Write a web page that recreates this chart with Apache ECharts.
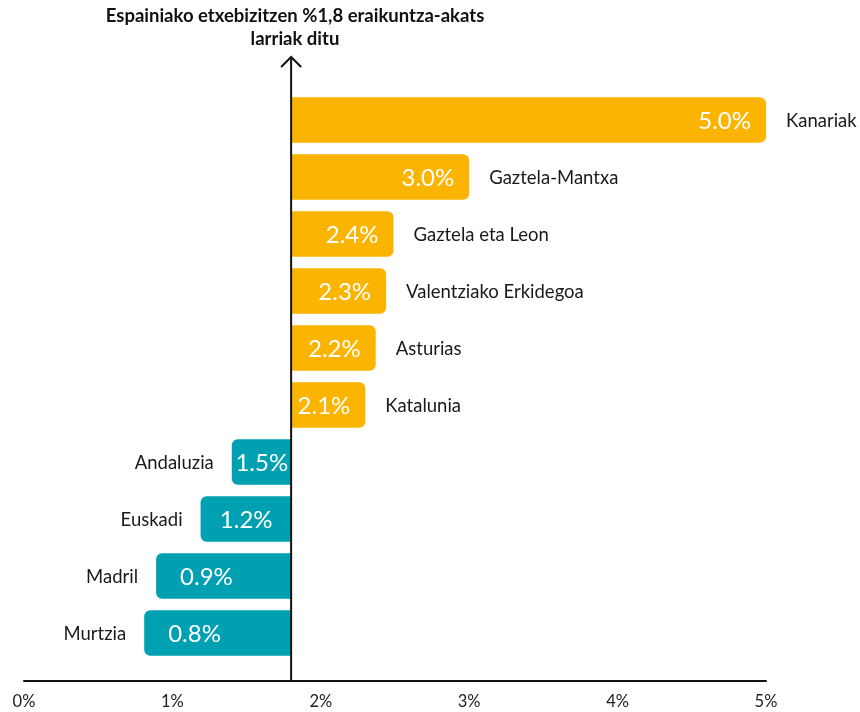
<!DOCTYPE html>
<html>
<head>
<meta charset="utf-8">
<script src="https://cdn.jsdelivr.net/npm/echarts@6/dist/echarts.min.js"></script>
<style>
html,body{margin:0;padding:0;background:#fff;}
#c{width:860px;height:712px;}
</style>
</head>
<body>
<div id="c"></div>
<script>
// Data
const categories = ['Kanariak','Gaztela-Mantxa','Gaztela eta Leon','Valentziako Erkidegoa','Asturias','Katalunia','Andaluzia','Euskadi','Madril','Murtzia'];
const valueLabels = ['5.0%','3.0%','2.4%','2.3%','2.2%','2.1%','1.5%','1.2%','0.9%','0.8%'];
// bar ends as drawn in the picture
const barEnds = [5.0, 3.0, 2.49, 2.44, 2.37, 2.30, 1.40, 1.19, 0.89, 0.81];
const baseline = 1.8;
const xTicks = [0,1,2,3,4,5];
const titleText = 'Espainiako etxebizitzen %1,8 eraikuntza-akats\nlarriak ditu';

const ORANGE = '#FBB400';
const TEAL = '#00A0B3';
const FONT = 'Lato, "Noto Sans", sans-serif';

const chart = echarts.init(document.getElementById('c'));

const option = {
  animation: false,
  title: {
    text: titleText,
    left: 290,
    top: 0,
    textAlign: 'center',
    textStyle: { fontFamily: FONT, fontSize: 18.5, fontWeight: 'bold', color: '#111', lineHeight: 23 }
  },
  grid: { left: 24, right: 94, top: 91.5, bottom: 50.5, containLabel: false },
  xAxis: {
    type: 'value',
    min: xTicks[0], max: xTicks[xTicks.length-1], interval: 1,
    offset: 19,
    axisLine: { show: true, lineStyle: { color: '#111', width: 2 } },
    axisTick: { show: false },
    splitLine: { show: false },
    axisLabel: { formatter: '{value}%', fontFamily: FONT, fontSize: 16.5, color: '#222', margin: 13 }
  },
  yAxis: {
    type: 'category', data: categories, inverse: true, show: false
  },
  series: [{
    type: 'custom',
    data: barEnds.map((v, i) => [v, i]),
    renderItem: function (params, api) {
      const i = params.dataIndex;
      const end = api.value(0);
      const cat = api.value(1);
      const p0 = api.coord([baseline, cat]);
      const p1 = api.coord([end, cat]);
      const band = api.size([0, 1])[1];
      const h = band * 0.8;
      const right = end >= baseline;
      const x = Math.min(p0[0], p1[0]);
      const w = Math.abs(p1[0] - p0[0]);
      const y = p0[1] - h / 2;
      const children = [{
        type: 'rect',
        shape: { x: x, y: y, width: w, height: h, r: right ? [0, 6, 6, 0] : [6, 0, 0, 6] },
        style: { fill: right ? ORANGE : TEAL }
      }];
      const labW = 52;
      if (right) {
        children.push({
          type: 'text',
          style: { text: valueLabels[i], x: p1[0] - 15, y: p0[1] + 1, align: 'right', verticalAlign: 'middle',
            fill: '#fff', fontFamily: FONT, fontSize: 24 }
        });
        children.push({
          type: 'text',
          style: { text: categories[i], x: p1[0] + 20, y: p0[1] + 1, align: 'left', verticalAlign: 'middle',
            fill: '#1a1a1a', fontFamily: FONT, fontSize: 18.5 }
        });
      } else {
        const pad = Math.min(24, Math.max(3, (w - labW) / 2));
        children.push({
          type: 'text',
          style: { text: valueLabels[i], x: p1[0] + pad, y: p0[1] + 1, align: 'left', verticalAlign: 'middle',
            fill: '#fff', fontFamily: FONT, fontSize: 24 }
        });
        children.push({
          type: 'text',
          style: { text: categories[i], x: p1[0] - 18, y: p0[1] + 1, align: 'right', verticalAlign: 'middle',
            fill: '#1a1a1a', fontFamily: FONT, fontSize: 18.5 }
        });
      }
      return { type: 'group', children: children };
    }
  }]
};
chart.setOption(option);

// vertical axis at the baseline with an arrow
const ax = chart.convertToPixel({ xAxisIndex: 0 }, baseline);
const axisBottom = chart.convertToPixel({ yAxisIndex: 0 }, categories[categories.length - 1]) + 48;
const axisTop = 57;
chart.setOption({
  graphic: [{
    type: 'line', z: 100,
    shape: { x1: ax, y1: axisTop, x2: ax, y2: axisBottom },
    style: { stroke: '#111', lineWidth: 2 }
  }, {
    type: 'polyline', z: 100,
    shape: { points: [[ax - 10, axisTop + 10], [ax, axisTop], [ax + 10, axisTop + 10]] },
    style: { stroke: '#111', lineWidth: 2, fill: null }
  }]
});
</script>
</body>
</html>
